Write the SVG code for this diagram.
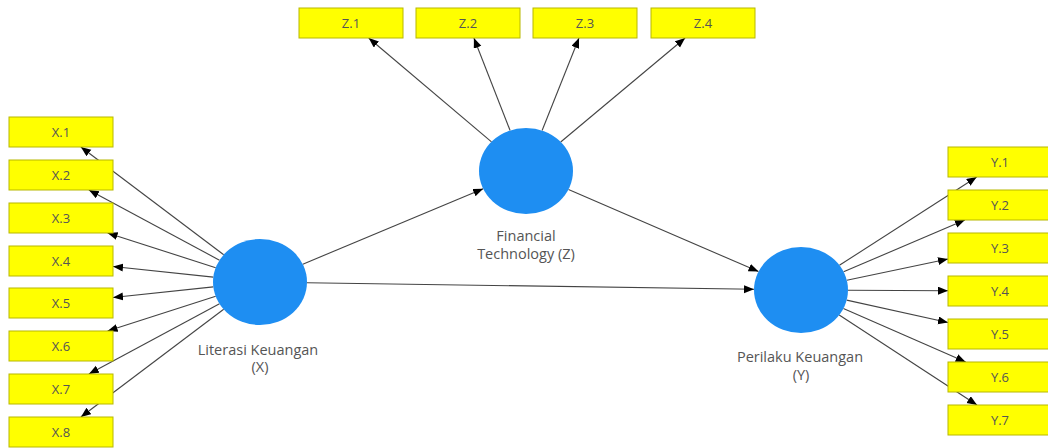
<svg xmlns="http://www.w3.org/2000/svg" width="1048" height="448" viewBox="0 0 1048 448">
<style>
.ind rect{fill:#ffff00;stroke:#b8b800;stroke-width:1}
.ind text{font-family:"Open Sans","Liberation Sans",sans-serif;font-size:13px;fill:#555;text-anchor:middle}
.lv ellipse{fill:#1e8ef2}
.lv text{font-family:"Open Sans","Liberation Sans",sans-serif;font-size:14.5px;fill:#555;text-anchor:middle}
#connectors line{stroke:#444;stroke-width:1.1;marker-end:url(#arr)}
</style>
<defs>
<marker id="arr" markerUnits="userSpaceOnUse" markerWidth="11" markerHeight="9" refX="10" refY="4" orient="auto">
<path d="M0,0 L10,4 L0,8 z" fill="#000"/>
</marker>
</defs>
<rect width="1048" height="448" fill="#fff"/>
<g id="connectors">
<line x1="223.7" y1="254.7" x2="80.9" y2="147"/>
<line x1="219.5" y1="260.2" x2="88.9" y2="190"/>
<line x1="215.7" y1="267.7" x2="107.6" y2="233"/>
<line x1="213.3" y1="277.1" x2="113" y2="266.5"/>
<line x1="213.3" y1="286.9" x2="113" y2="297.5"/>
<line x1="215.7" y1="296.3" x2="107.6" y2="331"/>
<line x1="219.5" y1="303.8" x2="88.9" y2="374"/>
<line x1="223.7" y1="309.3" x2="80.9" y2="417"/>
<line x1="491.5" y1="141.8" x2="368.7" y2="38"/>
<line x1="510.1" y1="130.5" x2="473.9" y2="38"/>
<line x1="542.1" y1="130.5" x2="579" y2="38"/>
<line x1="560.7" y1="142" x2="685.1" y2="38"/>
<line x1="839.4" y1="265.3" x2="976.7" y2="177"/>
<line x1="843.6" y1="271.8" x2="964.9" y2="220"/>
<line x1="846.8" y1="280.3" x2="948" y2="259"/>
<line x1="848" y1="290.2" x2="948" y2="290.7"/>
<line x1="846.7" y1="300.1" x2="948" y2="322.5"/>
<line x1="843.4" y1="308.5" x2="965.7" y2="362"/>
<line x1="839.2" y1="315" x2="977" y2="405"/>
<line x1="302.8" y1="264.2" x2="483.2" y2="188.8"/>
<line x1="307" y1="282.7" x2="754" y2="289.3"/>
<line x1="568.5" y1="189.4" x2="758.5" y2="271.6"/>
</g>
<g id="X" class="lv"><ellipse cx="260" cy="282" rx="47" ry="43"/><text x="258" y="355">Literasi Keuangan</text><text x="260" y="372">(X)</text></g>
<g id="Z" class="lv"><ellipse cx="526" cy="171" rx="47" ry="43"/><text x="526" y="241">Financial</text><text x="526" y="259">Technology (Z)</text></g>
<g id="Y" class="lv"><ellipse cx="801" cy="290" rx="47" ry="43"/><text x="800" y="362">Perilaku Keuangan</text><text x="801" y="380">(Y)</text></g>
<g id="X1" class="ind"><rect x="9" y="117" width="104" height="30"/><text x="61" y="136.5">X.1</text></g>
<g id="X2" class="ind"><rect x="9" y="160" width="104" height="30"/><text x="61" y="179.5">X.2</text></g>
<g id="X3" class="ind"><rect x="9" y="203" width="104" height="30"/><text x="61" y="222.5">X.3</text></g>
<g id="X4" class="ind"><rect x="9" y="246" width="104" height="30"/><text x="61" y="265.5">X.4</text></g>
<g id="X5" class="ind"><rect x="9" y="288" width="104" height="30"/><text x="61" y="307.5">X.5</text></g>
<g id="X6" class="ind"><rect x="9" y="331" width="104" height="30"/><text x="61" y="350.5">X.6</text></g>
<g id="X7" class="ind"><rect x="9" y="374" width="104" height="30"/><text x="61" y="393.5">X.7</text></g>
<g id="X8" class="ind"><rect x="9" y="417" width="104" height="30"/><text x="61" y="436.5">X.8</text></g>
<g id="Z1" class="ind"><rect x="299" y="8" width="104" height="30"/><text x="351" y="27.5">Z.1</text></g>
<g id="Z2" class="ind"><rect x="416" y="8" width="104" height="30"/><text x="468" y="27.5">Z.2</text></g>
<g id="Z3" class="ind"><rect x="533" y="8" width="104" height="30"/><text x="585" y="27.5">Z.3</text></g>
<g id="Z4" class="ind"><rect x="651" y="8" width="104" height="30"/><text x="703" y="27.5">Z.4</text></g>
<g id="Y1" class="ind"><rect x="948" y="147" width="104" height="30"/><text x="1000" y="166.5">Y.1</text></g>
<g id="Y2" class="ind"><rect x="948" y="190" width="104" height="30"/><text x="1000" y="209.5">Y.2</text></g>
<g id="Y3" class="ind"><rect x="948" y="233" width="104" height="30"/><text x="1000" y="252.5">Y.3</text></g>
<g id="Y4" class="ind"><rect x="948" y="276" width="104" height="30"/><text x="1000" y="295.5">Y.4</text></g>
<g id="Y5" class="ind"><rect x="948" y="319" width="104" height="30"/><text x="1000" y="338.5">Y.5</text></g>
<g id="Y6" class="ind"><rect x="948" y="362" width="104" height="30"/><text x="1000" y="381.5">Y.6</text></g>
<g id="Y7" class="ind"><rect x="948" y="405" width="104" height="30"/><text x="1000" y="424.5">Y.7</text></g>
</svg>
